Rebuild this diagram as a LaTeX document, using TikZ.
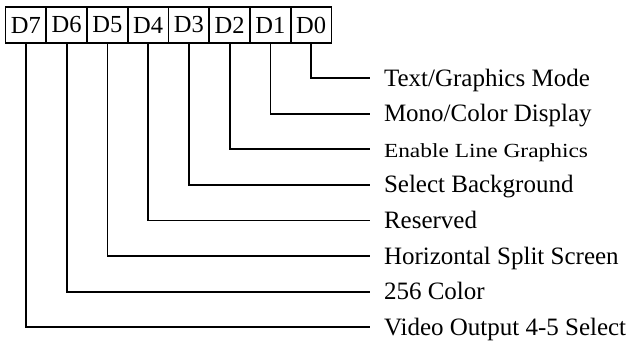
\documentclass[tikz,border=0pt]{standalone}
\usepackage{fontspec}
\setmainfont{Liberation Serif}
\usetikzlibrary{positioning}
\tikzset{
    % Bit cells of the register
    bitbox/.style={
        draw=black,
        line width=1.7pt,
        minimum width=40.75pt,
        minimum height=36pt,
        inner sep=0pt,
        outer sep=0pt,
        font=\fontsize{24.5}{28}\selectfont
    },
    % Description of each bit
    fieldlabel/.style={
        anchor=west,
        inner xsep=14pt,
        inner ysep=0pt,
        outer sep=0pt,
        text height=17pt,
        text depth=1pt,
        font=\fontsize{25}{29}\selectfont
    },
    % Leader lines from bits to labels
    leader/.style={
        line width=1.8pt,
        black
    }
}

\begin{document}
\begin{tikzpicture}[x=1pt, y=-1pt]
\useasboundingbox (0,0) rectangle (633,341);

% ==================== REGISTER BITS ====================
\node[bitbox] (d7) at (25.9, 25) {D7};
\node[bitbox, right=0pt of d7] (d6) {D6};
\node[bitbox, right=0pt of d6] (d5) {D5};
\node[bitbox, right=0pt of d5] (d4) {D4};
\node[bitbox, right=0pt of d4] (d3) {D3};
\node[bitbox, right=0pt of d3] (d2) {D2};
\node[bitbox, right=0pt of d2] (d1) {D1};
\node[bitbox, right=0pt of d1] (d0) {D0};

% ==================== BIT DESCRIPTIONS ====================
\node[fieldlabel] (lbl0) at (370, 78.0) {Text/Graphics Mode};
\node[fieldlabel] (lbl1) at (370, 113.6) {Mono/Color Display};
\node[fieldlabel, font=\fontsize{20}{24}\selectfont] (lbl2) at (370, 149.2)
    {\scalebox{1.17}[1]{Enable Line Graphics}};
\node[fieldlabel] (lbl3) at (370, 184.8) {Select Background};
\node[fieldlabel] (lbl4) at (370, 220.4) {Reserved};
\node[fieldlabel] (lbl5) at (370, 256.0) {Horizontal Split Screen};
\node[fieldlabel] (lbl6) at (370, 291.6) {256 Color};
\node[fieldlabel] (lbl7) at (370, 327.2) {Video Output 4-5 Select};

% ==================== LEADERS ====================
\foreach \b in {0,...,7}
    \draw[leader] (d\b.south) |- (lbl\b.west);

\end{tikzpicture}
\end{document}
